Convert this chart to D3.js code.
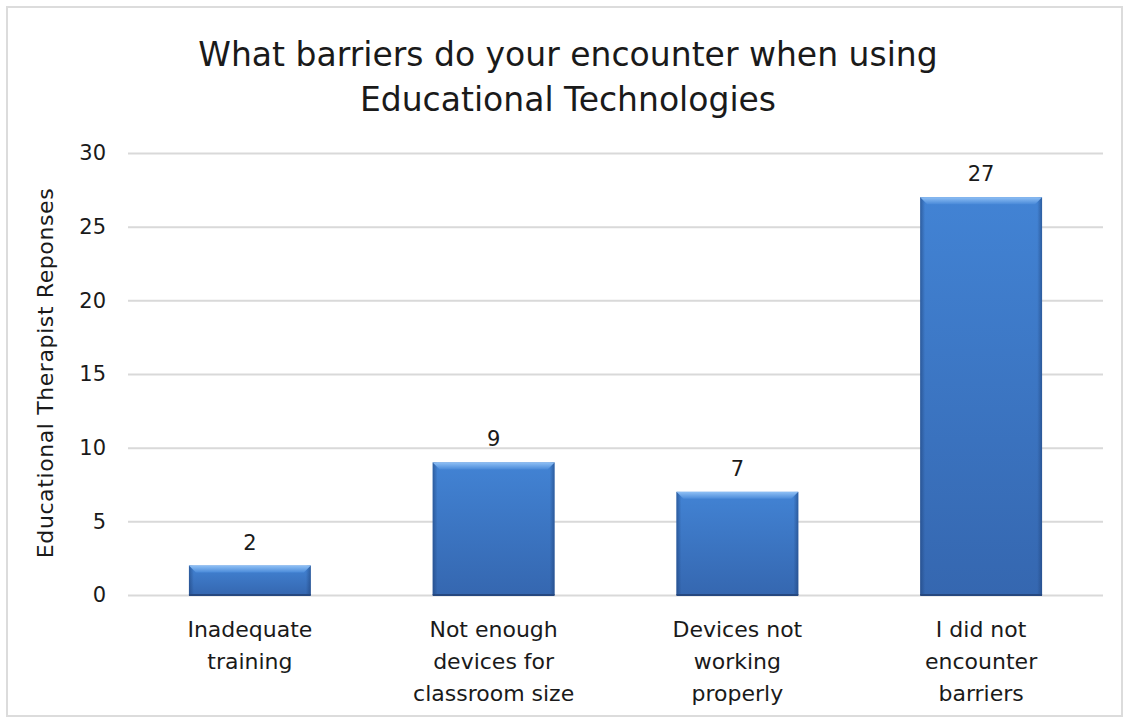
<!DOCTYPE html>
<html>
<head>
<meta charset="utf-8">
<script src="https://cdn.jsdelivr.net/npm/d3@7"></script>
<style>
  html, body { margin: 0; padding: 0; background: #fff; }
  svg { display: block; }
  text { font-family: "DejaVu Sans", "Noto Sans", sans-serif; fill: #1a1a1a; }
</style>
</head>
<body>
<svg id="chart" width="1124" height="720"></svg>
<script>
// Survey responses per barrier category
const categories = [
  ["Inadequate", "training"],
  ["Not enough", "devices for", "classroom size"],
  ["Devices not", "working", "properly"],
  ["I did not", "encounter", "barriers"]
];
const responses = [2, 9, 7, 27];
const yTicks = [0, 5, 10, 15, 20, 25, 30];
const titleLines = ["What barriers do your encounter when using", "Educational Technologies"];
const yAxisTitle = "Educational Therapist Reponses";

const W = 1124, H = 720;
const plot = { left: 128, right: 1103, top: 153, bottom: 595 };
const FONT = "\"DejaVu Sans\", \"Noto Sans\", sans-serif";

const svg = d3.select("#chart");

// outer frame
svg.append("rect")
  .attr("x", 7).attr("y", 7).attr("width", W - 9).attr("height", H - 11)
  .attr("fill", "none").attr("stroke", "#dcdcdc").attr("stroke-width", 2);

const x = d3.scaleBand()
  .domain(d3.range(categories.length))
  .range([plot.left, plot.right])
  .paddingInner(0.5).paddingOuter(0.25);

const y = d3.scaleLinear().domain([0, 30]).range([plot.bottom, plot.top]);

// gradients for the bevelled bars
const defs = svg.append("defs");
const vg = defs.append("linearGradient").attr("id", "barFill")
  .attr("x1", 0).attr("y1", 0).attr("x2", 0).attr("y2", 1);
vg.append("stop").attr("offset", "0%").attr("stop-color", "#4283d4");
vg.append("stop").attr("offset", "100%").attr("stop-color", "#3567b0");

const hg = defs.append("linearGradient").attr("id", "barSides")
  .attr("x1", 0).attr("y1", 0).attr("x2", 1).attr("y2", 0);
hg.append("stop").attr("offset", "0%").attr("stop-color", "#1d3f75").attr("stop-opacity", 0.55);
hg.append("stop").attr("offset", "4%").attr("stop-color", "#1d3f75").attr("stop-opacity", 0);
hg.append("stop").attr("offset", "96%").attr("stop-color", "#1d3f75").attr("stop-opacity", 0);
hg.append("stop").attr("offset", "100%").attr("stop-color", "#1d3f75").attr("stop-opacity", 0.55);

const tg = defs.append("linearGradient").attr("id", "barTop")
  .attr("x1", 0).attr("y1", 0).attr("x2", 0).attr("y2", 1);
tg.append("stop").attr("offset", "0%").attr("stop-color", "#8fc0f5");
tg.append("stop").attr("offset", "100%").attr("stop-color", "#4a8ad9");

// gridlines via axis
const grid = svg.append("g")
  .attr("transform", `translate(${plot.left},0)`)
  .call(d3.axisLeft(y).tickValues(yTicks).tickSize(-(plot.right - plot.left)).tickFormat(""));
grid.select(".domain").remove();
grid.selectAll("line").attr("stroke", "#d9d9d9").attr("stroke-width", 2);

// y tick labels
const yAxis = svg.append("g")
  .attr("transform", `translate(${plot.left - 22},0)`)
  .call(d3.axisLeft(y).tickValues(yTicks).tickSize(0).tickPadding(0));
yAxis.select(".domain").remove();
yAxis.selectAll("text")
  .attr("font-size", 21).attr("fill", "#1a1a1a")
  .attr("font-family", FONT);

// bars
const bars = svg.append("g").selectAll("g").data(responses).join("g");
bars.append("rect")
  .attr("x", (d, i) => x(i)).attr("width", x.bandwidth())
  .attr("y", d => y(d)).attr("height", d => y(0) - y(d))
  .attr("fill", "url(#barFill)");
bars.append("rect")
  .attr("x", (d, i) => x(i)).attr("width", x.bandwidth())
  .attr("y", d => y(d)).attr("height", d => y(0) - y(d))
  .attr("fill", "url(#barSides)");
// bevelled top edge
bars.append("path")
  .attr("d", (d, i) => {
    const x0 = x(i), x1 = x(i) + x.bandwidth(), t = y(d), b = 7;
    return `M${x0},${t}L${x1},${t}L${x1 - b},${t + b}L${x0 + b},${t + b}Z`;
  })
  .attr("fill", "url(#barTop)");
bars.append("line")
  .attr("x1", (d, i) => x(i)).attr("x2", (d, i) => x(i) + x.bandwidth())
  .attr("y1", y(0)).attr("y2", y(0))
  .attr("stroke", "#26487f").attr("stroke-width", 2);

// value labels
svg.append("g").selectAll("text").data(responses).join("text")
  .attr("x", (d, i) => x(i) + x.bandwidth() / 2)
  .attr("y", d => y(d) - 16)
  .attr("text-anchor", "middle")
  .attr("font-size", 21)
  .text(d => d);

// category labels
const cat = svg.append("g").selectAll("text").data(categories).join("text")
  .attr("text-anchor", "middle")
  .attr("font-size", 22);
cat.selectAll("tspan").data((d, i) => d.map(s => ({ s, i }))).join("tspan")
  .attr("x", d => x(d.i) + x.bandwidth() / 2)
  .attr("y", (d, j) => 637 + j * 32)
  .text(d => d.s);

// title
svg.append("g").selectAll("text").data(titleLines).join("text")
  .attr("x", 568)
  .attr("y", (d, i) => 66 + i * 45)
  .attr("text-anchor", "middle")
  .attr("font-size", 33)
  .text(d => d);

// y axis title
svg.append("text")
  .attr("transform", `translate(53,${(186 + 560) / 2}) rotate(-90)`)
  .attr("text-anchor", "middle")
  .attr("font-size", 22)
  .attr("letter-spacing", 0.6)
  .text(yAxisTitle);
</script>
</body>
</html>
